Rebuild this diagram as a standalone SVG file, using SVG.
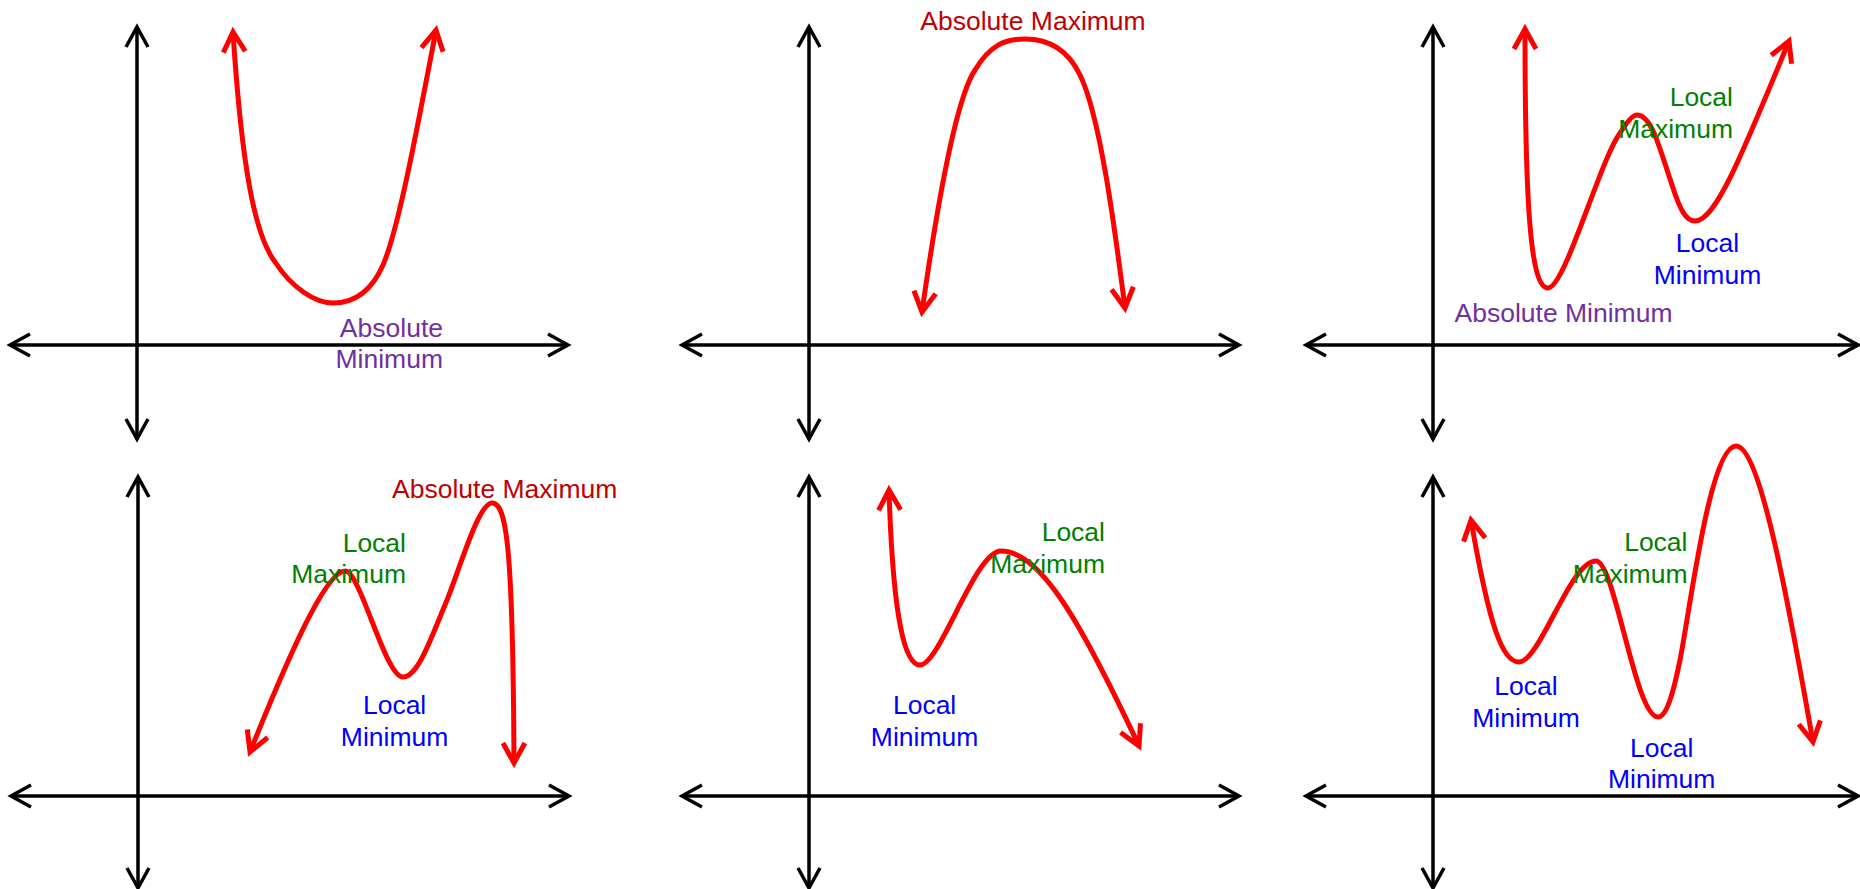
<svg xmlns="http://www.w3.org/2000/svg" width="1860" height="889" viewBox="0 0 1860 889">
<style>
.ax{stroke:#000;stroke-width:3.5;fill:none;marker-start:url(#ka);marker-end:url(#ka)}
.cv{stroke:#ff0000;stroke-width:5;fill:none;marker-start:url(#ra);marker-end:url(#ra)}
text{font-family:"Liberation Sans",Arial,sans-serif;font-size:26.5px}
.amax{fill:#c00000}
.amin{fill:#7030a0}
.lmax{fill:#008000}
.lmin{fill:#0000ff}
</style>
<defs>
<marker id="ka" markerUnits="userSpaceOnUse" orient="auto-start-reverse" refX="0" refY="0" markerWidth="40" markerHeight="40" overflow="visible">
<path d="M-20,-11 L0,0 L-20,11" fill="none" stroke="#000" stroke-width="3.5"/>
</marker>
<marker id="ra" markerUnits="userSpaceOnUse" orient="auto-start-reverse" refX="0" refY="0" markerWidth="40" markerHeight="40" overflow="visible">
<path d="M-20,-11 L0,0 L-20,11" fill="none" stroke="#ff0000" stroke-width="5"/>
</marker>
</defs>

<g id="panel1">
<line class="ax" x1="137" y1="439" x2="137" y2="27"/>
<line class="ax" x1="10" y1="345" x2="568" y2="345"/>
<path class="cv" d="M233,32 C242,170 255,235 275,262 C292,288 315,303 333,303 C355,303 372,290 383,265 C398,230 415,140 436,30"/>
<text class="amin" x="443" y="337" text-anchor="end">Absolute</text>
<text class="amin" x="443" y="368" text-anchor="end">Minimum</text>
</g>

<g id="panel2">
<line class="ax" x1="809" y1="439" x2="809" y2="27"/>
<line class="ax" x1="682" y1="345" x2="1239" y2="345"/>
<path class="cv" d="M922,312 C935,220 955,100 975,70 C990,45 1005,39 1025,39 C1050,39 1068,50 1080,75 C1100,115 1115,230 1125,308"/>
<text class="amax" x="1033" y="30" text-anchor="middle">Absolute Maximum</text>
</g>

<g id="panel3">
<line class="ax" x1="1433" y1="439" x2="1433" y2="27"/>
<line class="ax" x1="1306" y1="345" x2="1858" y2="345"/>
<path class="cv" d="M1525,29 C1525,200 1530,288 1548,288 C1565,288 1600,160 1620,133 C1628,120 1633,115 1637,115 C1652,115 1660,150 1672,185 C1680,210 1686,221 1695,221 C1715,221 1740,160 1789,41"/>
<text class="lmax" x="1733" y="106" text-anchor="end">Local</text>
<text class="lmax" x="1733" y="138" text-anchor="end">Maximum</text>
<text class="lmin" x="1707.5" y="252" text-anchor="middle">Local</text>
<text class="lmin" x="1707.5" y="284" text-anchor="middle">Minimum</text>
<text class="amin" x="1563.5" y="322" text-anchor="middle">Absolute Minimum</text>
</g>

<g id="panel4">
<line class="ax" x1="138" y1="888" x2="138" y2="477"/>
<line class="ax" x1="11" y1="796" x2="569" y2="796"/>
<path class="cv" d="M250,752 C285,665 325,571 345,571 C360,570 385,677 403,677 C418,677 431,638 445,605 C459,572 478,503 492,503 C506,503 513,540 514,763"/>
<text class="amax" x="504.7" y="498" text-anchor="middle">Absolute Maximum</text>
<text class="lmax" x="406" y="552" text-anchor="end">Local</text>
<text class="lmax" x="406" y="583" text-anchor="end">Maximum</text>
<text class="lmin" x="394.6" y="714" text-anchor="middle">Local</text>
<text class="lmin" x="394.6" y="746" text-anchor="middle">Minimum</text>
</g>

<g id="panel5">
<line class="ax" x1="809" y1="888" x2="809" y2="477"/>
<line class="ax" x1="682" y1="796" x2="1239" y2="796"/>
<path class="cv" d="M889,490 C893,620 905,665 920,665 C940,665 975,551 1001,551 C1040,551 1080,620 1139,746"/>
<text class="lmax" x="1105" y="541" text-anchor="end">Local</text>
<text class="lmax" x="1105" y="573" text-anchor="end">Maximum</text>
<text class="lmin" x="924.6" y="714" text-anchor="middle">Local</text>
<text class="lmin" x="924.6" y="746" text-anchor="middle">Minimum</text>
</g>

<g id="panel6">
<line class="ax" x1="1433" y1="888" x2="1433" y2="477"/>
<line class="ax" x1="1306" y1="796" x2="1858" y2="796"/>
<path class="cv" d="M1471,520 C1490,630 1503,662 1519,662 C1540,662 1570,561 1596,561 C1615,561 1635,717 1658,717 C1666,717 1673,695 1680,660 C1690,610 1710,446 1736,446 C1760,446 1788,600 1813,742"/>
<text class="lmax" x="1687.5" y="551" text-anchor="end">Local</text>
<text class="lmax" x="1687.5" y="583" text-anchor="end">Maximum</text>
<text class="lmin" x="1526" y="695" text-anchor="middle">Local</text>
<text class="lmin" x="1526" y="727" text-anchor="middle">Minimum</text>
<text class="lmin" x="1661.7" y="757" text-anchor="middle">Local</text>
<text class="lmin" x="1661.7" y="788" text-anchor="middle">Minimum</text>
</g>
</svg>
